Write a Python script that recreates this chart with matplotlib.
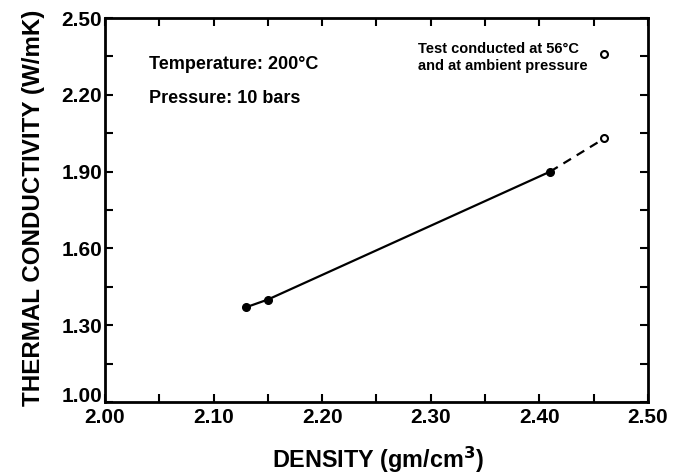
import numpy as np
import matplotlib.pyplot as plt
from matplotlib.ticker import FixedLocator

plt.rcParams['font.family'] = ['Liberation Sans', 'DejaVu Sans']

# datos medidos a 200 °C y 10 bar
density = [2.13, 2.15, 2.41]
conductivity = [1.37, 1.40, 1.90]

# extrapolación (discontinua) y punto abierto
density_ext = [2.41, 2.46]
conductivity_ext = [1.90, 2.03]

# punto de leyenda: ensayo a 56 °C, presión ambiente
legend_pt = (2.46, 2.36)

xticks = [2.00, 2.10, 2.20, 2.30, 2.40, 2.50]
yticks = [1.00, 1.30, 1.60, 1.90, 2.20, 2.50]

fig = plt.figure(figsize=(6.77, 4.74), dpi=100)
ax = fig.add_axes([0.155, 0.152, 0.802, 0.810])

ax.plot(density, conductivity, color="black", lw=1.6, marker="o", ms=5.5, zorder=3)
ax.plot(density_ext, conductivity_ext, color="black", lw=1.6, ls=(0, (4, 3)), zorder=2)
ax.plot([density_ext[-1]], [conductivity_ext[-1]], marker="o", ms=5, mfc="white",
        mec="black", mew=1.5, ls="none", zorder=4)
ax.plot([legend_pt[0]], [legend_pt[1]], marker="o", ms=5, mfc="white",
        mec="black", mew=1.5, ls="none", zorder=4)

ax.set_xlim(2.00, 2.50)
ax.set_ylim(1.00, 2.50)
ax.set_xticks(xticks, [f"{v:.2f}" for v in xticks])
ax.set_yticks(yticks, [f"{v:.2f}" for v in yticks])
ax.xaxis.set_minor_locator(FixedLocator(np.array(xticks[:-1]) + 0.05))
ax.yaxis.set_minor_locator(FixedLocator(np.array(yticks[:-1]) + 0.15))

ax.tick_params(which="both", direction="in", top=True, right=True, width=1.5)
ax.tick_params(which="major", length=6, labelsize=15)
ax.tick_params(which="minor", length=6)
ax.tick_params(axis="x", pad=4)
ax.tick_params(axis="y", pad=2)
for lbl in ax.get_xticklabels() + ax.get_yticklabels():
    lbl.set_fontweight("bold")
# el "1.00" queda un poco por encima del eje, como en el original
ax.get_yticklabels()[0].set_va("baseline")
for s in ax.spines.values():
    s.set_linewidth(2)

ax.text(2.0405, 2.32, "Temperature: 200°C", fontsize=13, fontweight="bold", va="center")
ax.text(2.0405, 2.184, "Pressure: 10 bars", fontsize=13, fontweight="bold", va="center")
ax.text(2.288, 2.345, "Test conducted at 56°C\nand at ambient pressure", fontsize=10.5,
        fontweight="bold", va="center", linespacing=1.25)

ax.set_xlabel("DENSITY (gm/cm$^\\mathbf{3}$)", fontsize=16.8, fontweight="bold", va="center")
ax.set_ylabel("THERMAL CONDUCTIVITY (W/mK)", fontsize=17.4, fontweight="bold", va="center")
ax.xaxis.set_label_coords(0.503, -0.150)
ax.yaxis.set_label_coords(-0.131, 0.506)

fig.savefig("out.png", dpi=100)
